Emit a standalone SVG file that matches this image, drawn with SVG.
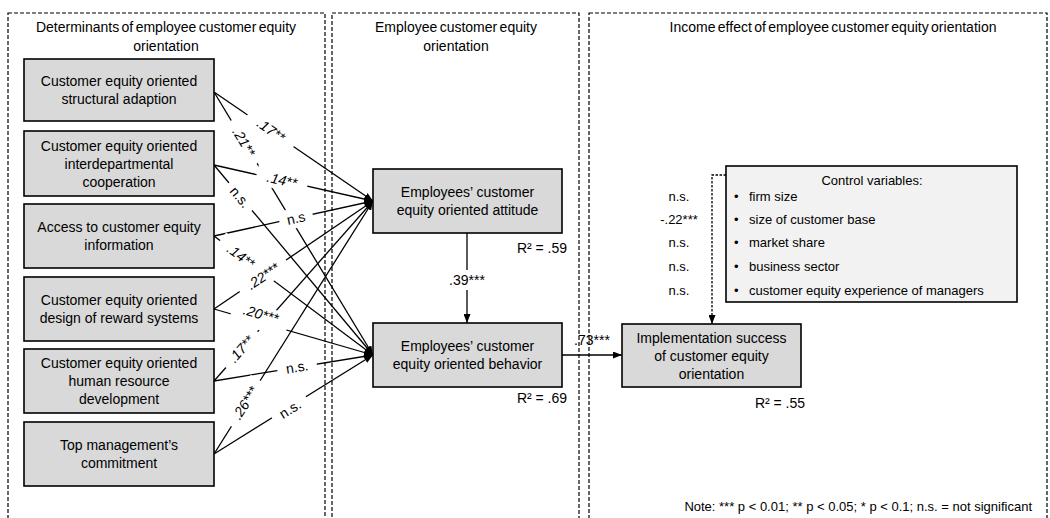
<svg xmlns="http://www.w3.org/2000/svg" width="1050" height="518" viewBox="0 0 1050 518">
<style>
.panel{fill:none;stroke:#000;stroke-width:1.2;stroke-dasharray:4,2}
.ptitle{font-family:"Liberation Sans",Arial,sans-serif;font-size:14px;fill:#000;text-anchor:middle;word-spacing:-1.5px}
.box{fill:#d9d9d9;stroke:#000;stroke-width:1.6}
.cbox{fill:#f2f2f2;stroke:#000;stroke-width:1.6}
.bt{font-family:"Liberation Sans",Arial,sans-serif;font-size:14px;fill:#000;text-anchor:middle}
.ct{font-family:"Liberation Sans",Arial,sans-serif;font-size:13px;fill:#000}
.ln{stroke:#000;stroke-width:1.3;fill:none}
.lbl{font-family:"Liberation Sans",Arial,sans-serif;font-size:14px;fill:#000;text-anchor:middle;dominant-baseline:central}
.it{font-style:italic}
.mask{fill:#fff}
.dot{stroke:#000;stroke-width:1.3;fill:none;stroke-dasharray:2.5,1.5}
</style>
<defs>
<marker id="ah" markerUnits="userSpaceOnUse" markerWidth="9" markerHeight="7" refX="9" refY="3.5" orient="auto">
<path d="M0,0 L9,3.5 L0,7 z" fill="#000"/>
</marker>
</defs>
<rect width="1050" height="518" fill="#fff"/>

<g id="panels">
<rect class="panel" x="8" y="13" width="317" height="530"/>
<rect class="panel" x="332" y="13" width="247" height="530"/>
<rect class="panel" x="589" y="13" width="458" height="530"/>
<text class="ptitle" x="166" y="32">Determinants of employee customer equity</text>
<text class="ptitle" x="166" y="51">orientation</text>
<text class="ptitle" x="456" y="32">Employee customer equity</text>
<text class="ptitle" x="456" y="51">orientation</text>
<text class="ptitle" x="833" y="32">Income effect of employee customer equity orientation</text>
</g>

<g id="connectors">
<line class="ln" x1="214" y1="92" x2="373" y2="201" marker-end="url(#ah)"/>
<line class="ln" x1="214" y1="92" x2="373" y2="355" marker-end="url(#ah)"/>
<line class="ln" x1="214" y1="165" x2="373" y2="201" marker-end="url(#ah)"/>
<line class="ln" x1="214" y1="165" x2="373" y2="355" marker-end="url(#ah)"/>
<line class="ln" x1="214" y1="236" x2="373" y2="201" marker-end="url(#ah)"/>
<line class="ln" x1="214" y1="236" x2="373" y2="355" marker-end="url(#ah)"/>
<line class="ln" x1="214" y1="309" x2="373" y2="201" marker-end="url(#ah)"/>
<line class="ln" x1="214" y1="309" x2="373" y2="355" marker-end="url(#ah)"/>
<line class="ln" x1="214" y1="381" x2="373" y2="201" marker-end="url(#ah)"/>
<line class="ln" x1="214" y1="381" x2="373" y2="355" marker-end="url(#ah)"/>
<line class="ln" x1="214" y1="454" x2="373" y2="201" marker-end="url(#ah)"/>
<line class="ln" x1="214" y1="454" x2="373" y2="355" marker-end="url(#ah)"/>
<line class="ln" x1="467" y1="233" x2="467" y2="323" marker-end="url(#ah)"/>
<line class="ln" x1="562" y1="355" x2="622" y2="355" marker-end="url(#ah)"/>
<polyline class="dot" points="726,175 712,175 712,324" marker-end="url(#ah)"/>
</g>

<g id="labels">
<g transform="translate(271,130) rotate(34.4)"><rect class="mask" x="-28" y="-10" width="56" height="20"/><text class="lbl it" x="0" y="0">.17**</text></g>
<g transform="translate(244,142) rotate(58.8)"><rect class="mask" x="-25" y="-10" width="50" height="20"/><text class="lbl it" x="0" y="0">.21**</text></g>
<g transform="translate(282,180) rotate(12.8)"><rect class="mask" x="-26" y="-10" width="52" height="20"/><text class="lbl it" x="0" y="0">.14**</text></g>
<g transform="translate(240,197) rotate(50)"><rect class="mask" x="-18" y="-10" width="36" height="20"/><text class="lbl" x="0" y="0">n.s.</text></g>
<g transform="translate(296,218) rotate(-12.4)"><rect class="mask" x="-17" y="-10" width="34" height="20"/><text class="lbl" x="0" y="0">n.s</text></g>
<g transform="translate(241,256) rotate(36.8)"><rect class="mask" x="-26" y="-10" width="52" height="20"/><text class="lbl it" x="0" y="0">.14**</text></g>
<g transform="translate(263,276) rotate(-34.2)"><rect class="mask" x="-28" y="-10" width="56" height="20"/><text class="lbl it" x="0" y="0">.22***</text></g>
<g transform="translate(260,317) rotate(16.1)"><rect class="mask" x="-29" y="-11" width="58" height="24"/><text class="lbl it" x="0" y="-3">.20***</text></g>
<g transform="translate(241,349) rotate(-48.5)"><rect class="mask" x="-24" y="-10" width="48" height="20"/><text class="lbl it" x="0" y="0">.17**</text></g>
<g transform="translate(297,367) rotate(-9.3)"><rect class="mask" x="-20" y="-10" width="40" height="20"/><text class="lbl" x="0" y="0">n.s.</text></g>
<g transform="translate(245,403) rotate(-57.9)"><rect class="mask" x="-27" y="-10" width="54" height="20"/><text class="lbl it" x="0" y="0">.26***</text></g>
<g transform="translate(290,409) rotate(-31.9)"><rect class="mask" x="-20" y="-10" width="40" height="20"/><text class="lbl" x="0" y="0">n.s.</text></g>
<rect class="mask" x="444" y="270" width="46" height="20"/>
<text class="lbl" x="467" y="280">.39***</text>
<text class="lbl" x="592" y="340">.73***</text>
<text class="bt" x="542" y="253">R² = .59</text>
<text class="bt" x="542" y="403">R² = .69</text>
<text class="bt" x="780" y="408">R² = .55</text>
<text class="ct" x="679" y="201" text-anchor="middle">n.s.</text>
<text class="ct" x="679" y="224" text-anchor="middle">-.22***</text>
<text class="ct" x="679" y="247" text-anchor="middle">n.s.</text>
<text class="ct" x="679" y="271" text-anchor="middle">n.s.</text>
<text class="ct" x="679" y="294.5" text-anchor="middle">n.s.</text>
<text class="ct" x="1032" y="511" text-anchor="end">Note: *** p &lt; 0.01; ** p &lt; 0.05; * p &lt; 0.1; n.s. = not significant</text>
</g>

<g id="n1"><rect class="box" x="24" y="59" width="190" height="62"/>
<text class="bt" x="119" y="86">Customer equity oriented</text><text class="bt" x="119" y="104">structural adaption</text></g>
<g id="n2"><rect class="box" x="24" y="131" width="190" height="65"/>
<text class="bt" x="119" y="150.5">Customer equity oriented</text><text class="bt" x="119" y="168.5">interdepartmental</text><text class="bt" x="119" y="186.5">cooperation</text></g>
<g id="n3"><rect class="box" x="24" y="204" width="190" height="64"/>
<text class="bt" x="119" y="232">Access to customer equity</text><text class="bt" x="119" y="250">information</text></g>
<g id="n4"><rect class="box" x="24" y="277" width="190" height="64"/>
<text class="bt" x="119" y="305">Customer equity oriented</text><text class="bt" x="119" y="323">design of reward systems</text></g>
<g id="n5"><rect class="box" x="24" y="349" width="190" height="64"/>
<text class="bt" x="119" y="368">Customer equity oriented</text><text class="bt" x="119" y="386">human resource</text><text class="bt" x="119" y="404">development</text></g>
<g id="n6"><rect class="box" x="24" y="422" width="190" height="64"/>
<text class="bt" x="119" y="450">Top management’s</text><text class="bt" x="119" y="468">commitment</text></g>
<g id="attitude"><rect class="box" x="373" y="169" width="189" height="64"/>
<text class="bt" x="467.5" y="197">Employees’ customer</text><text class="bt" x="467.5" y="215">equity oriented attitude</text></g>
<g id="behavior"><rect class="box" x="373" y="323" width="189" height="64"/>
<text class="bt" x="467.5" y="351">Employees’ customer</text><text class="bt" x="467.5" y="369">equity oriented behavior</text></g>
<g id="implementation"><rect class="box" x="622" y="324" width="179" height="63"/>
<text class="bt" x="711.5" y="342.5">Implementation success</text><text class="bt" x="711.5" y="360.5">of customer equity</text><text class="bt" x="711.5" y="378.5">orientation</text></g>
<g id="controls"><rect class="cbox" x="726" y="166" width="291" height="136"/>
<text class="ct" x="872" y="184.5" text-anchor="middle">Control variables:</text>
<text class="ct" x="734" y="201">•</text><text class="ct" x="749" y="201">firm size</text>
<text class="ct" x="734" y="224">•</text><text class="ct" x="749" y="224">size of customer base</text>
<text class="ct" x="734" y="247">•</text><text class="ct" x="749" y="247">market share</text>
<text class="ct" x="734" y="271">•</text><text class="ct" x="749" y="271">business sector</text>
<text class="ct" x="734" y="294.5">•</text><text class="ct" x="749" y="294.5">customer equity experience of managers</text></g>
</svg>
